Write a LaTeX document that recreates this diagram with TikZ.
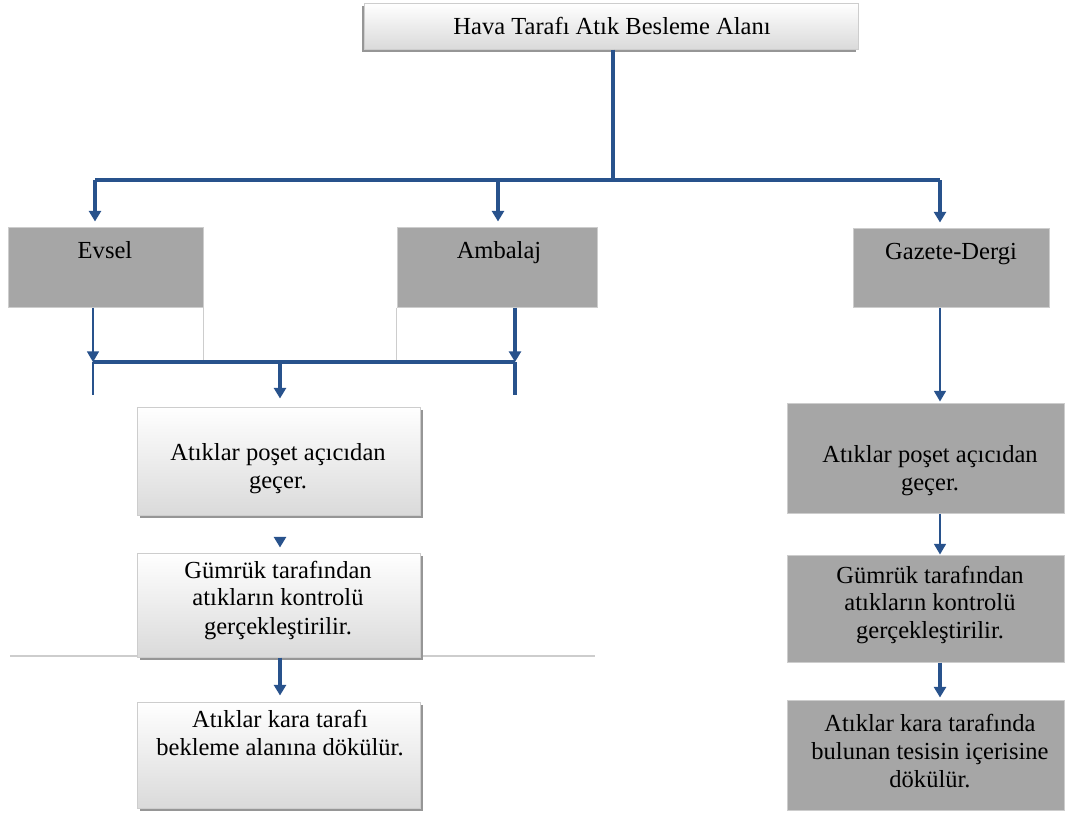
\documentclass[tikz,border=0pt]{standalone}
\usepackage{fontspec}
\setmainfont{Liberation Serif}
\usetikzlibrary{arrows.meta,shadows}
\definecolor{flowblue}{RGB}{40,82,140}
\definecolor{boxgray}{RGB}{166,166,166}
\definecolor{edgegray}{RGB}{205,205,205}
\definecolor{shadegray}{RGB}{218,218,218}
\definecolor{shadowgray}{RGB}{150,150,150}
\begin{document}
\begin{tikzpicture}[x=0.75pt, y=-0.75pt,
  sz/.style 2 args={minimum width=#1*0.75pt, minimum height=#2*0.75pt},
  txt/.style={font=\fontsize{18.4}{21}\selectfont, align=center, inner sep=0pt},
  onetxt/.style={font=\fontsize{18.4}{21}\selectfont, inner sep=0pt, anchor=base},
  plainbox/.style={draw=edgegray, line width=0.75pt, fill=boxgray, inner sep=0pt},
  softbox/.style={draw=edgegray, line width=0.75pt, top color=white,
    bottom color=shadegray, inner sep=0pt},
  shadowR/.style={drop shadow={shadow xshift=2pt, shadow yshift=-2.5pt,
    fill=shadowgray, opacity=1}},
  shadowL/.style={drop shadow={shadow xshift=-1.5pt, shadow yshift=-2.5pt,
    fill=shadowgray, opacity=1}},
  wire/.style={draw=flowblue, line width=2.3pt},
  thinwire/.style={draw=flowblue, line width=1.2pt},
  tip/.style={-{Triangle[width=9pt,length=8pt]}},
  guide/.style={draw=edgegray, line width=0.9pt}]
\useasboundingbox (0,0) rectangle (1065,815);

% faint guide line behind the left column
\draw[guide] (10,656) -- (595,656);

% boxes
\node[softbox, shadowL, sz={494}{46}] (top) at (611,26) {};
\node[plainbox, sz={195}{80}] (evsel) at (105.5,267) {};
\node[plainbox, sz={200}{80}] (ambalaj) at (497,267) {};
\node[plainbox, sz={196}{79}] (gazete) at (951,267.5) {};

\node[softbox, shadowR, sz={283}{108}] (L1) at (278.5,461) {};
\node[softbox, shadowR, sz={283}{104}] (L2) at (278.5,605) {};
\node[softbox, shadowR, sz={283}{106}] (L3) at (278.5,755) {};

\node[plainbox, sz={277}{110}] (R1) at (925.5,458) {};
\node[plainbox, sz={277}{107}] (R2) at (925.5,608.5) {};
\node[plainbox, sz={277}{110}] (R3) at (925.5,755) {};

% texts
\node[onetxt] (top-t) at (612,34) {Hava Tarafı Atık Besleme Alanı};
\node[onetxt] (evsel-t) at (105,258) {Evsel};
\node[onetxt] (ambalaj-t) at (499,258) {Ambalaj};
\node[onetxt] (gazete-t) at (951,259) {Gazete-Dergi};
\node[txt] (L1-t) at (278,469) {Atıklar poşet açıcıdan\\geçer.};
\node[txt] (L2-t) at (278,600) {Gümrük tarafından\\atıkların kontrolü\\gerçekleştirilir.};
\node[txt] (L3-t) at (280,733) {Atıklar kara tarafı\\bekleme alanına dökülür.};
\node[txt] (R1-t) at (930,471) {Atıklar poşet açıcıdan\\geçer.};
\node[txt] (R2-t) at (930,605) {Gümrük tarafından\\atıkların kontrolü\\gerçekleştirilir.};
\node[txt] (R3-t) at (930,751) {Atıklar kara tarafında\\bulunan tesisin içerisine\\dökülür.};

% upper distribution
\coordinate (hub) at (613,180);
\coordinate (bL) at (95,180);
\coordinate (bM) at (498,180);
\coordinate (bR) at (940,180);
\draw[wire] (top.south -| hub) -- (hub);
\draw[wire] (bL) -- (bR);
\draw[wire, tip, shorten >=5*0.75pt] (bL) -- (bL |- evsel.north);
\draw[wire, tip, shorten >=5*0.75pt] (bM) -- (bM |- ambalaj.north);
\draw[wire, tip, shorten >=5*0.75pt] (bR) -- (bR |- gazete.north);

% left collection
\coordinate (mL) at (93,362);
\coordinate (mC) at (280,362);
\coordinate (mR) at (515,362);
\draw[guide] (evsel.south east) -- (evsel.south east |- mL);
\draw[guide] (ambalaj.south west) -- (ambalaj.south west |- mL);
\draw[thinwire, tip] (evsel.south -| mL) -- (mL);
\draw[wire, tip] (ambalaj.south -| mR) -- (mR);
\draw[wire] (mL) -- (mR);
\draw[thinwire] (mL) -- ++(0,33);
\draw[wire] (mR) -- ++(0,33);
\draw[wire, tip, shorten >=8*0.75pt] (mC) -- (mC |- L1.north);
\draw[wire, tip, shorten <=23*0.75pt, shorten >=5*0.75pt] (L1.south -| mC) -- (L2.north -| mC);
\draw[wire, tip, shorten >=6*0.75pt] (L2.south -| mC) -- (L3.north -| mC);

% right column
\draw[thinwire, tip, shorten >=1*0.75pt] (gazete.south -| bR) -- (R1.north -| bR);
\draw[thinwire, tip] (R1.south -| bR) -- (R2.north -| bR);
\draw[wire, tip, shorten >=2*0.75pt] (R2.south -| bR) -- (R3.north -| bR);
\end{tikzpicture}
\end{document}
